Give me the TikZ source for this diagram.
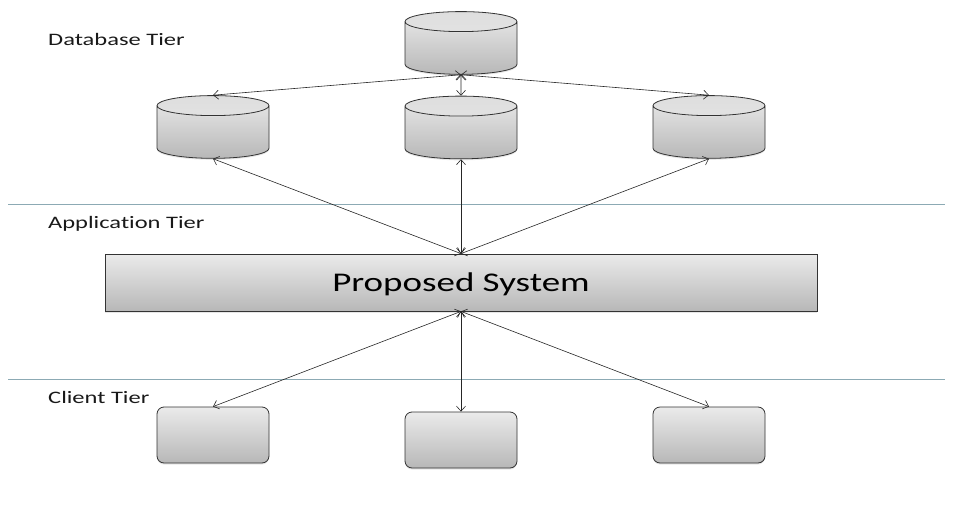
\documentclass[tikz,border=0pt]{standalone}
\usepackage{fontspec}
\setmainfont{Carlito}[FakeStretch=1.4,Ligatures=NoCommon]
\newfontfamily\systemfont[FakeStretch=1.37,Ligatures=NoCommon]{Carlito}
\definecolor{tierblue}{RGB}{140,170,180}
\usetikzlibrary{shapes.geometric,shadows,arrows.meta}
\tikzset{
	every node/.append style={inner sep=0pt},
	boxshade/.style={draw=black!80,line width=0.8pt,top color=black!8,bottom color=black!28,
		drop shadow={opacity=0.2,shadow xshift=0pt,shadow yshift=-1.5pt}},
	dbnode/.style={boxshade,shape=cylinder,shape border rotate=90,inner sep=20pt,aspect=0.5,minimum width=112pt,minimum height=60pt,
		path picture={\shade[top color=black!13,bottom color=black!8] ([yshift=-10.5pt]path picture bounding box.north) ellipse (56pt and 10.5pt);}},
	clientnode/.style={boxshade,rectangle,rounded corners=7pt,minimum width=112pt,minimum height=56pt},
	tierlabel/.style={anchor=base west,font=\fontsize{17.5}{20}\selectfont,text=black!90},
	tierline/.style={draw=tierblue,line width=0.7pt},
	link/.style={{Straight Barb[length=5pt,width=9pt]}-{Straight Barb[length=5pt,width=9pt]},draw=black!85,line width=0.6pt}
}
\begin{document}
\begin{tikzpicture}[x=1pt,y=-1pt]
	\useasboundingbox (0,0) rectangle (960,508);
	% tier lines
	\coordinate (line1l) at (8,204);
	\coordinate (line1r) at (945,204);
	\coordinate (line2l) at (8,379);
	\coordinate (line2r) at (945,379);
	\draw [tierline] (line1l) -- (line1r);
	\draw [tierline] (line2l) -- (line2r);
	% labels
	\node [tierlabel] (dbtier) at (48,46) {Database Tier};
	\node [tierlabel] (apptier) at (48,228) {Application Tier};
	\node [tierlabel] (clienttier) at (48,403) {Client Tier};
	% nodes
	\node [dbnode] (dbtop) at (461,52) {};
	\node [dbnode] (dbleft) at (213,136) {};
	\node [dbnode] (dbmid) at (461,136.5) {};
	\node [dbnode] (dbright) at (709,136) {};
	\node [boxshade,rectangle,minimum width=712pt,minimum height=57pt,font=\systemfont\fontsize{27}{32}\selectfont] (system) at (461,282.5) {\smash{\raisebox{-8.5pt}{Proposed System}}};
	\node [clientnode] (clientleft) at (213,435) {};
	\node [clientnode] (clientmid) at (461,440) {};
	\node [clientnode] (clientright) at (709,435) {};
	% connectors
	\draw [link] (dbtop.south) -- (dbleft.north);
	\draw [link] (dbtop.south) -- (dbmid.north);
	\draw [link] (dbtop.south) -- (dbright.north);
	\draw [link] (system.north) -- (dbleft.south);
	\draw [link] (system.north) -- (dbmid.south);
	\draw [link] (system.north) -- (dbright.south);
	\draw [link] (system.south) -- (clientleft.north);
	\draw [link] (system.south) -- (clientmid.north);
	\draw [link] (system.south) -- (clientright.north);
\end{tikzpicture}
\end{document}
